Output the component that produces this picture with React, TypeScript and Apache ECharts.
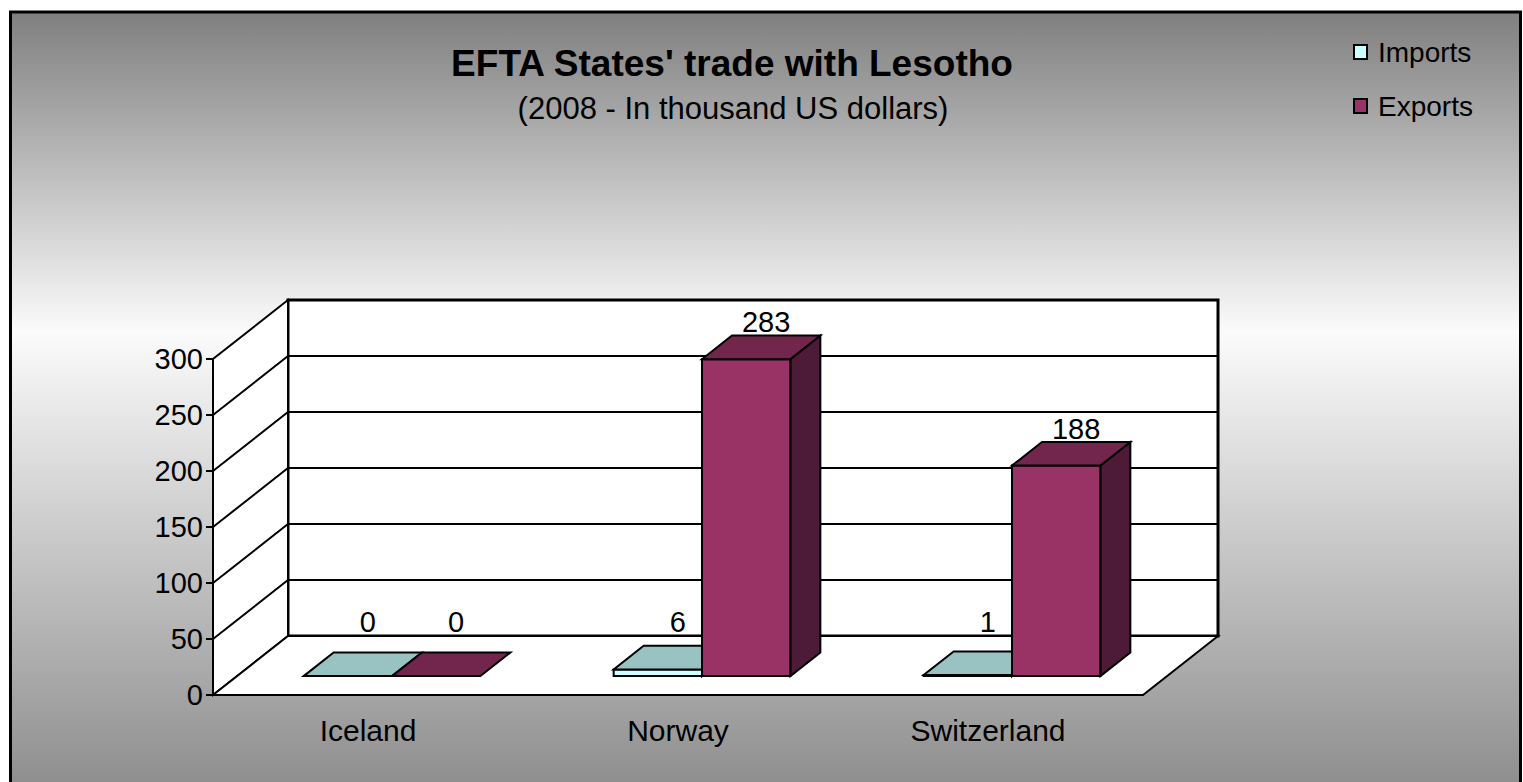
import React, { useEffect, useRef } from "react";
import * as echarts from "echarts";

const categories = ["Iceland", "Norway", "Switzerland"];
const importsValues = [0, 6, 1];
const exportsValues = [0, 283, 188];
const seriesNames = ["Imports", "Exports"];
const yMin = 0;
const yMax = 300;
const yStep = 50;

const titleText = "EFTA States' trade with Lesotho";
const subtitleText = "(2008 - In thousand US dollars)";

const FONT = "'Liberation Sans', Arial, sans-serif";
// depth vector of the 3D box
const DX = 75;
const DY = 59;
const F0 = 0.32; // front of bars (depth fraction)
const F1 = 0.72; // back of bars

const palettes = [
  { front: "#ccffff", top: "#99c2c2", side: "#80b3b3" },
  { front: "#993366", top: "#73264d", side: "#4d1a38" },
];

export default function App() {
  const ref = useRef<HTMLDivElement>(null);

  useEffect(() => {
    document.body.style.margin = "0";
    if (!ref.current) return;
    const chart = echarts.init(ref.current, undefined, { renderer: "svg" });

    const P = (x: number, y: number, f: number) => [x + f * DX, y - f * DY];

    const wallsRender = (params: any, api: any) => {
      const cs = params.coordSys;
      const x0 = cs.x;
      const x1 = cs.x + cs.width;
      const yt = cs.y;
      const yb = cs.y + cs.height;
      const stroke = { stroke: "#000", lineWidth: 2, fill: "#fff", lineJoin: "miter" };
      const children: any[] = [
        {
          type: "polygon",
          shape: { points: [[x0 + DX, yt - DY], [x1 + DX, yt - DY], [x1 + DX, yb - DY], [x0 + DX, yb - DY]] },
          style: { ...stroke, lineWidth: 3 },
        },
        {
          type: "polygon",
          shape: { points: [[x0, yb], [x0, yt], [x0 + DX, yt - DY], [x0 + DX, yb - DY]] },
          style: stroke,
        },
        {
          type: "polygon",
          shape: { points: [[x0, yb], [x1, yb], [x1 + DX, yb - DY], [x0 + DX, yb - DY]] },
          style: stroke,
        },
      ];
      for (let v = yMin + yStep; v < yMax; v += yStep) {
        const y = api.coord([0, v])[1];
        children.push({
          type: "polyline",
          shape: { points: [[x0, y], [x0 + DX, y - DY], [x1 + DX, y - DY]] },
          style: { stroke: "#000", lineWidth: 2, fill: null },
        });
      }
      return { type: "group", children };
    };

    const barRender = (sIdx: number) => (params: any, api: any) => {
      const idx = api.value(0);
      const val = api.value(1);
      const base = api.coord([idx, 0]);
      const top = api.coord([idx, val]);
      const band = api.size([1, 0])[0];
      const w = band * 0.285;
      const x1 = base[0] + (sIdx === 0 ? -w : 0);
      const x2 = x1 + w;
      const yb = base[1];
      const yt = top[1];
      const pal = palettes[sIdx];
      const st = { stroke: "#000", lineWidth: 2, lineJoin: "miter" };
      const children: any[] = [];
      if (yb - yt > 0.5) {
        children.push({
          type: "polygon",
          shape: { points: [P(x2, yt, F0), P(x2, yb, F0), P(x2, yb, F1), P(x2, yt, F1)] },
          style: { ...st, fill: pal.side },
        });
        children.push({
          type: "polygon",
          shape: { points: [P(x1, yt, F0), P(x2, yt, F0), P(x2, yb, F0), P(x1, yb, F0)] },
          style: { ...st, fill: pal.front },
        });
      }
      children.push({
        type: "polygon",
        shape: { points: [P(x1, yt, F0), P(x2, yt, F0), P(x2, yt, F1), P(x1, yt, F1)] },
        style: { ...st, fill: pal.top },
      });
      const ft = yt - F0 * DY;
      const fb = yb - F0 * DY;
      children.push({
        type: "text",
        style: {
          text: String(val),
          x: (x1 + x2) / 2 + 44,
          y: Math.min(ft - 37, fb - 54),
          align: "center",
          verticalAlign: "middle",
          fontSize: 29,
          fontFamily: FONT,
          fill: "#000",
        },
      });
      return { type: "group", children };
    };

    const option: any = {
      animation: false,
      textStyle: { fontFamily: FONT, color: "#000" },
      graphic: [
        {
          type: "rect",
          z: -10,
          silent: true,
          shape: { x: 10.5, y: 12, width: 1510, height: 800 },
          style: {
            fill: new echarts.graphic.LinearGradient(0, 0, 0, 1, [
              { offset: 0, color: "#7f7f7f" },
              { offset: 0.4, color: "#fbfbfb" },
              { offset: 1, color: "#888888" },
            ]),
            stroke: "#000",
            lineWidth: 3,
          },
        },
      ],
      title: [
        {
          text: titleText,
          left: 727,
          top: 40,
          textAlign: "center",
          textStyle: { fontSize: 37, fontWeight: "bold", color: "#000", fontFamily: FONT },
        },
        {
          text: subtitleText,
          left: 728,
          top: 88,
          textAlign: "center",
          textStyle: { fontSize: 31, fontWeight: "normal", color: "#000", fontFamily: FONT },
        },
      ],
      legend: {
        data: seriesNames,
        orient: "vertical",
        left: 1353,
        top: 36,
        padding: 0,
        itemWidth: 13,
        itemHeight: 14,
        itemGap: 22,
        icon: "rect",
        textStyle: { fontSize: 28, lineHeight: 32, color: "#000", fontFamily: FONT, padding: [0, 0, 0, 6] },
      },
      grid: { left: 213, top: 359, width: 930, height: 336, containLabel: false },
      xAxis: {
        type: "category",
        data: categories,
        axisLine: { lineStyle: { color: "#000", width: 2 } },
        axisTick: { length: 8, lineStyle: { color: "#000", width: 2 } },
        axisLabel: { color: "#000", fontSize: 30, margin: 20, fontFamily: FONT },
        splitLine: { show: false },
      },
      yAxis: {
        type: "value",
        min: yMin,
        max: yMax,
        interval: yStep,
        axisLine: { show: true, lineStyle: { color: "#000", width: 2 } },
        axisTick: { show: true, length: 7, lineStyle: { color: "#000", width: 2 } },
        axisLabel: { color: "#000", fontSize: 29, margin: 10, fontFamily: FONT },
        splitLine: { show: false },
      },
      series: [
        {
          type: "custom",
          name: "walls",
          z: 1,
          silent: true,
          data: [[0, 0]],
          renderItem: wallsRender,
        },
        {
          type: "custom",
          name: seriesNames[0],
          z: 3,
          itemStyle: { color: palettes[0].front, borderColor: "#000", borderWidth: 2 },
          data: categories.map((_, i) => [i, importsValues[i]]),
          renderItem: barRender(0),
        },
        {
          type: "custom",
          name: seriesNames[1],
          z: 4,
          itemStyle: { color: palettes[1].front, borderColor: "#000", borderWidth: 2 },
          data: categories.map((_, i) => [i, exportsValues[i]]),
          renderItem: barRender(1),
        },
      ],
    };

    chart.setOption(option);
    return () => chart.dispose();
  }, []);

  return <div ref={ref} style={{ width: 1523, height: 782 }} />;
}
